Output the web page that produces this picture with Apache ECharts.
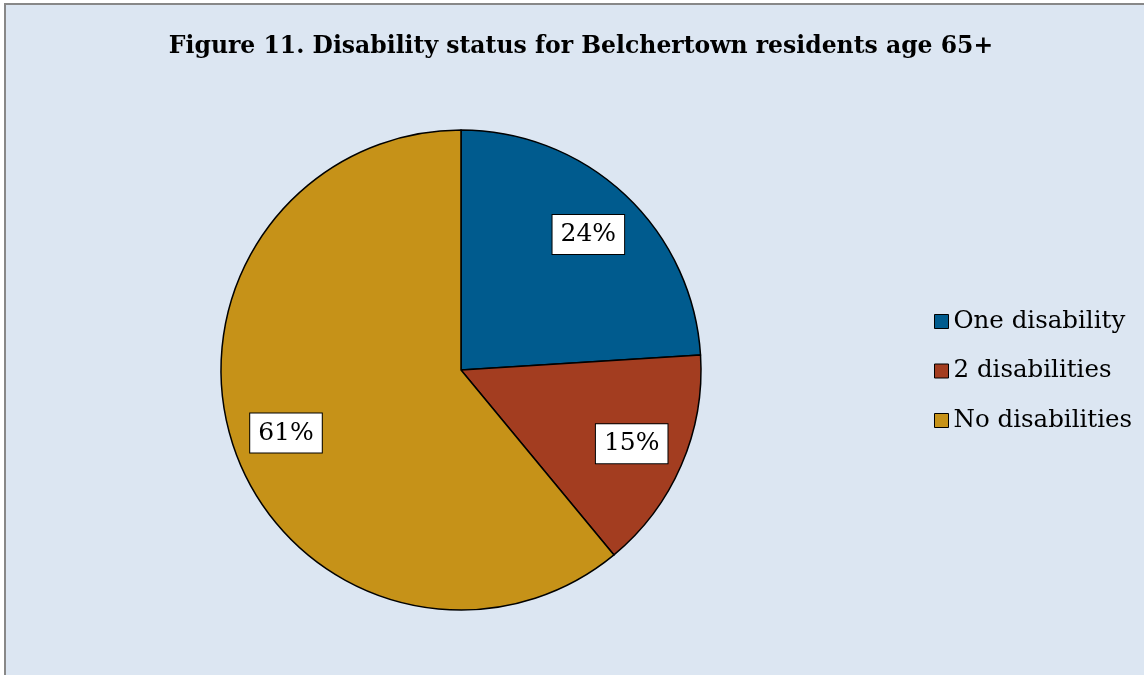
<!DOCTYPE html>
<html><head><meta charset="utf-8">
<script src="https://cdn.jsdelivr.net/npm/echarts@6/dist/echarts.min.js"></script>
<style>html,body{margin:0;padding:0;background:#fff}#c{width:1144px;height:675px}</style>
</head><body><div id="c"></div>
<script>
const titleText = 'Figure 11. Disability status for Belchertown residents age 65+';
const categories = ['One disability', '2 disabilities', 'No disabilities'];
const values = [24, 15, 61];
const colors = ['#005B8E', '#A33D20', '#C69218'];
const FONT = 'DejaVu Serif';

const data = categories.map((n, i) => ({ name: n, value: values[i], itemStyle: { color: colors[i] } }));
const chart = echarts.init(document.getElementById('c'));
chart.setOption({
  animation: false,
  graphic: [{
    type: 'rect', z: -10, silent: true,
    shape: { x: 5, y: 4, width: 1200, height: 700 },
    style: { fill: '#DCE6F2', stroke: '#888888', lineWidth: 2 }
  }],
  title: {
    text: titleText, left: 576, top: 30, textAlign: 'center',
    textStyle: { fontFamily: FONT, fontWeight: 'bold', fontSize: 23.5, color: '#000' }
  },
  legend: {
    orient: 'vertical', left: 929, top: 304,
    itemWidth: 14, itemHeight: 14, itemGap: 24.5, icon: 'rect',
    itemStyle: { borderColor: '#000', borderWidth: 1 },
    textStyle: { fontFamily: FONT, fontSize: 24.5, lineHeight: 25, color: '#000' },
    data: categories
  },
  series: [{
    type: 'pie', center: [461, 370], radius: 240, startAngle: 90, clockwise: true,
    label: { show: false }, labelLine: { show: false }, silent: true,
    itemStyle: { borderColor: '#000', borderWidth: 1.5 },
    data: data
  }, {
    type: 'pie', center: [461, 370], radius: [0, 366], startAngle: 90, clockwise: true,
    silent: true, legendHoverLink: false,
    itemStyle: { color: 'rgba(0,0,0,0)', borderWidth: 0 },
    label: {
      show: true, position: 'inside', formatter: '{d}%',
      fontFamily: FONT, fontSize: 25, color: '#000',
      backgroundColor: '#fff', borderColor: '#000', borderWidth: 1,
      padding: [8, 8, 6, 8]
    },
    labelLine: { show: false },
    data: categories.map((n, i) => ({ name: n, value: values[i] }))
  }]
});
</script></body></html>
